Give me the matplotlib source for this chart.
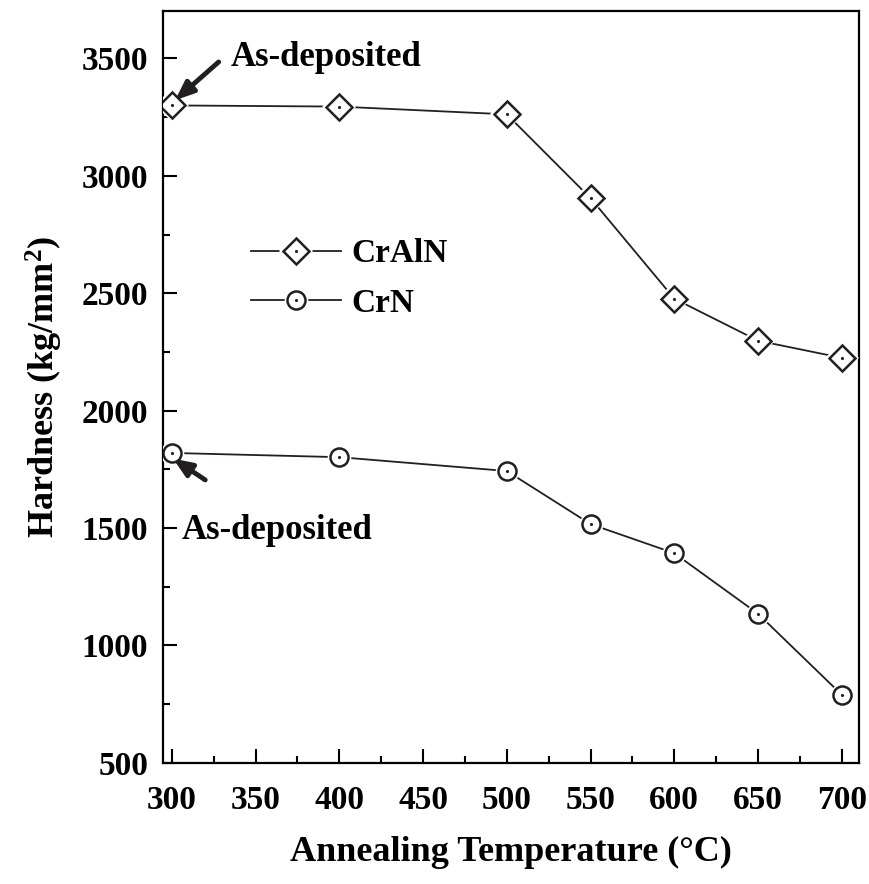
import matplotlib.pyplot as plt
from matplotlib.ticker import MultipleLocator

temps = [300, 400, 500, 550, 600, 650, 700]
crAlN = [3300, 3295, 3262, 2905, 2477, 2298, 2225]
crN = [1820, 1802, 1743, 1517, 1393, 1135, 790]

plt.rcParams['font.family'] = ['Liberation Serif', 'DejaVu Serif']
plt.rcParams['font.weight'] = 'bold'
plt.rcParams['axes.labelweight'] = 'bold'
plt.rcParams['mathtext.fontset'] = 'custom'
plt.rcParams['mathtext.rm'] = 'Liberation Serif:bold'
plt.rcParams['mathtext.it'] = 'Liberation Serif:bold'
plt.rcParams['mathtext.bf'] = 'Liberation Serif:bold'

fig = plt.figure(figsize=(8.69, 8.84), dpi=100)
ax = fig.add_axes([0.188, 0.137, 0.800, 0.850])


def series(y, marker, label):
    ax.plot(temps, y, '-', color='#231f20', lw=1.3, zorder=2)
    ax.plot(temps, y, marker, ms=17, mfc='white', mec='white', mew=0, zorder=3)
    ax.plot(temps, y, marker, ms=13, mfc='white', mec='#231f20', mew=1.8, zorder=4)
    ax.plot(temps, y, '.', ms=2.5, color='#231f20', zorder=5)
    h_line, = ax.plot([], [], '-', color='#231f20', lw=1.3)
    h_gap, = ax.plot([], [], marker, ms=17, mfc='white', mec='white', mew=0)
    h_mk, = ax.plot([], [], marker, ms=13, mfc='white', mec='#231f20', mew=1.8)
    h_dot, = ax.plot([], [], '.', ms=2.5, color='#231f20')
    return (h_line, h_gap, h_mk, h_dot), label


hs = [series(crAlN, 'D', 'CrAlN'), series(crN, 'o', 'CrN')]
ax.legend([h for h, _ in hs], [l for _, l in hs], loc='upper left',
          bbox_to_anchor=(0.083, 0.738), frameon=False, fontsize=24,
          handlelength=2.7, labelspacing=0.55, handletextpad=0.3)

ax.set_xlim(295, 710)
ax.set_ylim(500, 3700)
ax.xaxis.set_major_locator(MultipleLocator(50))
ax.xaxis.set_minor_locator(MultipleLocator(25))
ax.yaxis.set_major_locator(MultipleLocator(500))
ax.yaxis.set_minor_locator(MultipleLocator(250))
ax.tick_params(which='both', direction='in', width=1.5, labelsize=24)
ax.tick_params(axis='x', pad=16)
ax.tick_params(axis='y', pad=11)
ax.tick_params(which='major', length=10)
ax.tick_params(which='minor', length=5)
for s in ax.spines.values():
    s.set_linewidth(1.6)

ax.set_xlabel('Annealing Temperature (°C)', fontsize=26, labelpad=14)
ax.set_ylabel('Hardness (kg/mm$^2$)', fontsize=26, labelpad=12)

arrow = dict(arrowstyle='-|>,head_length=1.1,head_width=0.45', lw=3.5, color='#231f20',
             shrinkA=0, shrinkB=0)
ax.annotate('', xy=(302, 3322), xytext=(328, 3485), arrowprops=arrow)
ax.text(335, 3505, 'As-deposited', fontsize=25, va='center', ha='left')
ax.annotate('', xy=(300.8, 1796), xytext=(320, 1705), arrowprops=arrow)
ax.text(306, 1491, 'As-deposited', fontsize=25, va='center', ha='left')

fig.savefig('out.png', dpi=100)
